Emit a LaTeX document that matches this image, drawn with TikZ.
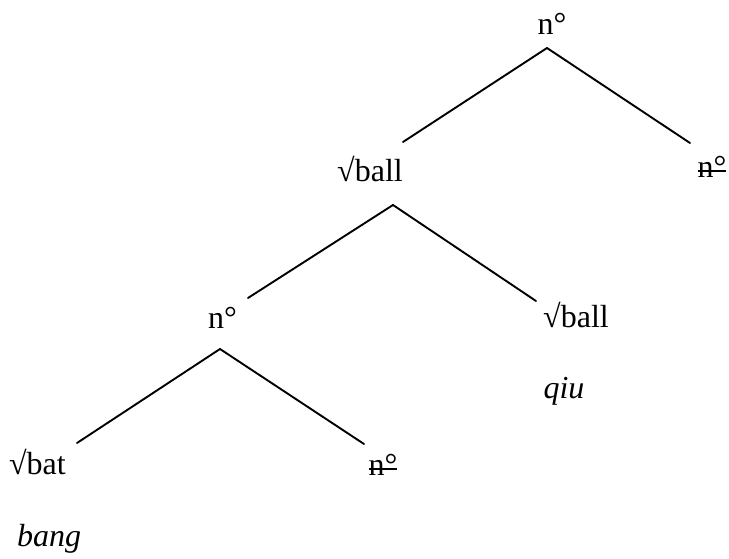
\documentclass[tikz,border=0pt]{standalone}
\usepackage{fontspec}
\setmainfont{Liberation Serif}
\newcommand{\strikeout}[1]{\setbox0\hbox{#1}\rlap{\rule[0.2em]{\wd0}{0.06em}}\box0}

\begin{document}
\begin{tikzpicture}[x=1pt,y=1pt,
  label/.style={text=drawColor,anchor=base,inner sep=0pt,outer sep=0pt,font=\fontsize{32}{38}\selectfont},
  branch/.style={draw=drawColor,line width=1.9pt,line cap=round}]
\definecolor{fillColor}{RGB}{255,255,255}
\definecolor{drawColor}{RGB}{0,0,0}
\path[use as bounding box,fill=fillColor] (0,0) rectangle (729,559);

\node[label] (top)   at (552,524) {n°};
\node[label] (ballA) at (370,377) {√ball};
\node[label] (nullA) at (712,381) {\strikeout{n°}};
\node[label] (nB)    at (222.5,230) {n°};
\node[label] (ballB) at (576,231) {√ball};
\node[label] (qiu)   at (564,160) {\textit{qiu}};
\node[label] (bat)   at (37.5,84) {√bat};
\node[label] (nullB) at (383,83) {\strikeout{n°}};
\node[label] (bang)  at (49,12) {\textit{bang}};

\path[branch] ([shift={(-5,-13)}]top.base) -- ([shift={(33,40)}]ballA.base);
\path[branch] ([shift={(-5,-13)}]top.base) -- ([shift={(-22,35)}]nullA.base);

\path[branch] ([shift={(23,-23)}]ballA.base) -- ([shift={(25.5,31)}]nB.base);
\path[branch] ([shift={(23,-23)}]ballA.base) -- ([shift={(-40,27)}]ballB.base);

\path[branch] ([shift={(-2.5,-20)}]nB.base) -- ([shift={(39.5,32)}]bat.base);
\path[branch] ([shift={(-2.5,-20)}]nB.base) -- ([shift={(-19,32)}]nullB.base);
\end{tikzpicture}
\end{document}
